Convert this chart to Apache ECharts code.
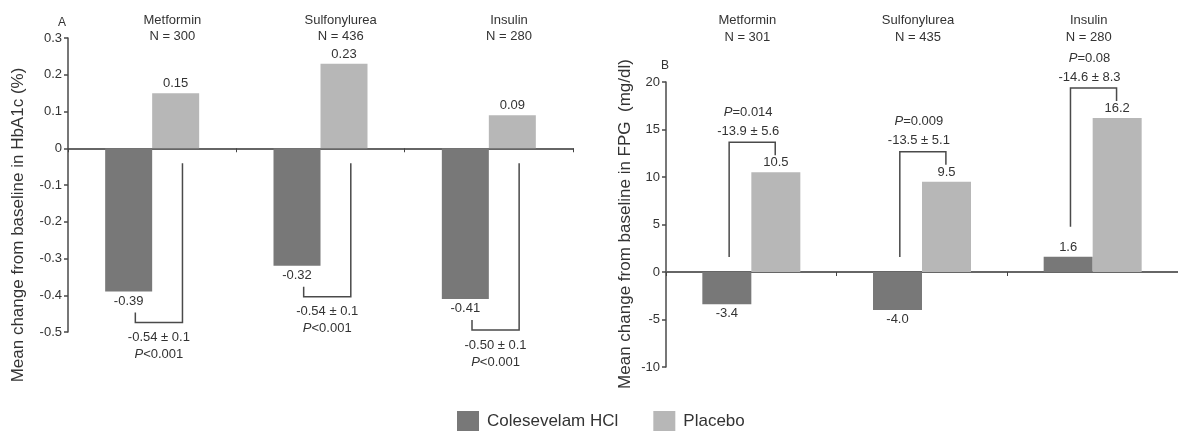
<!DOCTYPE html>
<html><head><meta charset="utf-8">
<script src="https://cdn.jsdelivr.net/npm/echarts@6/dist/echarts.min.js"></script>
<style>html,body{margin:0;padding:0;background:#fff}#c{width:1178px;height:433px}</style>
</head><body><div id="c"></div>
<script>
// ---- data ----
const categories = ['Metformin', 'Sulfonylurea', 'Insulin'];
const seriesNames = ['Colesevelam HCl', 'Placebo'];
// Panel A: HbA1c (%)
const hba1cN = ['N = 300', 'N = 436', 'N = 280'];
const hba1cColesevelam = [-0.39, -0.32, -0.41];
const hba1cPlacebo = [0.15, 0.23, 0.09];
const hba1cDiff = ['-0.54 \u00b1 0.1', '-0.54 \u00b1 0.1', '-0.50 \u00b1 0.1'];
const hba1cP = ['P<0.001', 'P<0.001', 'P<0.001'];
const hba1cAxis = { min: -0.5, max: 0.3, interval: 0.1 };
// Panel B: FPG (mg/dl)
const fpgN = ['N = 301', 'N = 435', 'N = 280'];
const fpgColesevelam = [-3.4, -4.0, 1.6];
const fpgPlacebo = [10.5, 9.5, 16.2];
const fpgDiff = ['-13.9 \u00b1 5.6', '-13.5 \u00b1 5.1', '-14.6 \u00b1 8.3'];
const fpgP = ['P=0.014', 'P=0.009', 'P=0.08'];
const fpgAxis = { min: -10, max: 20, interval: 5 };

// ---- style ----
const FONT = '"Liberation Sans", Arial, sans-serif';
const DARK = '#787878', LIGHT = '#b7b7b7', INK = '#333', LINE = '#4a4a4a';

function txt(x, y, s, size) {
  return { type: 'text', style: { x: x, y: y, text: s, align: 'center', verticalAlign: 'middle',
    fontSize: size || 13, fontFamily: FONT, fill: INK } };
}
function ptxt(x, y, s) {
  return { type: 'text', style: { x: x, y: y, text: '{i|' + s.charAt(0) + '}' + s.slice(1),
    align: 'center', verticalAlign: 'middle', fontSize: 13, fontFamily: FONT, fill: INK,
    rich: { i: { fontStyle: 'italic', fontSize: 13, fontFamily: FONT, fill: INK } } } };
}

function renderA(params, api) {
  const i = api.value(0), d = api.value(1);
  const c0 = api.coord([i, 0]);
  const band = api.size([1, 0])[0];
  const cx = c0[0], y0 = c0[1];
  const yd = api.coord([i, d])[1];
  const xLong = cx + 0.18 * band, xShort = cx - 0.10 * band;
  const yBot = yd + 31, yTop = y0 + 15;
  const tx = (xLong + xShort) / 2;
  return { type: 'group', children: [
    { type: 'polyline', shape: { points: [[xLong, yTop], [xLong, yBot], [xShort, yBot], [xShort, yBot - 10]] },
      style: { stroke: LINE, lineWidth: 1.5, fill: null } },
    txt(tx, yBot + 15, hba1cDiff[i]),
    ptxt(tx, yBot + 32, hba1cP[i]),
    txt(cx + 0.12 * band, 20, categories[i]),
    txt(cx + 0.12 * band, 36, hba1cN[i])
  ] };
}

function renderB(params, api) {
  const i = api.value(0), d = api.value(1), p = api.value(2);
  const c0 = api.coord([i, 0]);
  const band = api.size([1, 0])[0];
  const cx = c0[0], y0 = c0[1];
  const yp = api.coord([i, p])[1];
  const yd = api.coord([i, d])[1];
  const xLeft = cx - 0.13 * band, xRight = cx + 0.14 * band;
  const yBr = yp - 30;
  const yLow = d > 0 ? yd - 30 : y0 - 15;
  const tx = (xLeft + xRight) / 2 - 4;
  return { type: 'group', children: [
    { type: 'polyline', shape: { points: [[xLeft, yLow], [xLeft, yBr], [xRight, yBr], [xRight, yBr + 13]] },
      style: { stroke: LINE, lineWidth: 1.5, fill: null } },
    txt(tx, yBr - 11, fpgDiff[i]),
    ptxt(tx, yBr - 30, fpgP[i]),
    txt(cx - 4, 20, categories[i]),
    txt(cx - 4, 37, fpgN[i])
  ] };
}

function barLabel() {
  return function (v) { return { value: v, label: { position: v < 0 ? 'bottom' : 'top' } }; };
}

const axisLineStyle = { color: LINE, width: 1.5 };
const chart = echarts.init(document.getElementById('c'), null, { renderer: 'canvas' });
chart.setOption({
  backgroundColor: '#fff',
  animation: false,
  textStyle: { fontFamily: FONT },
  grid: [
    { left: 68, top: 38, width: 505, height: 294 },
    { left: 666, top: 82, width: 520, height: 285 }
  ],
  legend: {
    data: seriesNames, left: 457, top: 411, itemWidth: 22, itemHeight: 20, itemGap: 35,
    padding: 0, icon: 'rect',
    textStyle: { fontSize: 17, color: INK, fontFamily: FONT, padding: [0, 0, 0, 3] }
  },
  graphic: [
    { type: 'text', left: 58, top: 17, style: { text: 'A', fontSize: 12, fontFamily: FONT, fill: INK } },
    { type: 'text', left: 661, top: 60, style: { text: 'B', fontSize: 12, fontFamily: FONT, fill: INK } },
    { type: 'text', x: 18, y: 225, rotation: Math.PI / 2,
      style: { text: 'Mean change from baseline in HbA1c (%)', align: 'center', verticalAlign: 'middle',
        fontSize: 17, fontFamily: FONT, fill: INK } },
    { type: 'text', x: 625, y: 224, rotation: Math.PI / 2,
      style: { text: 'Mean change from baseline in FPG  (mg/dl)', align: 'center', verticalAlign: 'middle',
        fontSize: 17, fontFamily: FONT, fill: INK } }
  ],
  xAxis: [0, 1].map(g => ({
    type: 'category', gridIndex: g, data: categories,
    axisLine: { onZero: true, lineStyle: { color: '#666', width: 2 } },
    axisTick: { show: true, length: 4, lineStyle: { color: '#444' } },
    axisLabel: { show: false }, splitLine: { show: false }
  })),
  yAxis: [
    { type: 'value', gridIndex: 0, min: hba1cAxis.min, max: hba1cAxis.max, interval: hba1cAxis.interval,
      axisLine: { show: true, lineStyle: axisLineStyle }, axisTick: { show: true, length: 4, lineStyle: axisLineStyle },
      axisLabel: { fontSize: 13, color: INK, margin: 6, formatter: v => String(+v.toFixed(1)) },
      splitLine: { show: false } },
    { type: 'value', gridIndex: 1, min: fpgAxis.min, max: fpgAxis.max, interval: fpgAxis.interval,
      axisLine: { show: true, lineStyle: axisLineStyle }, axisTick: { show: true, length: 4, lineStyle: axisLineStyle },
      axisLabel: { fontSize: 13, color: INK, margin: 6, formatter: v => String(Math.round(v)) },
      splitLine: { show: false } }
  ],
  series: [
    { name: seriesNames[0], type: 'bar', xAxisIndex: 0, yAxisIndex: 0, barWidth: 47, barGap: '0%',
      itemStyle: { color: DARK }, data: hba1cColesevelam.map(barLabel()),
      label: { show: true, distance: 3, fontSize: 13, color: INK, formatter: p => p.value.toFixed(2) } },
    { name: seriesNames[1], type: 'bar', xAxisIndex: 0, yAxisIndex: 0, barWidth: 47, barGap: '0%',
      itemStyle: { color: LIGHT }, data: hba1cPlacebo.map(barLabel()),
      label: { show: true, distance: 3, fontSize: 13, color: INK, formatter: p => p.value.toFixed(2) } },
    { name: seriesNames[0], type: 'bar', xAxisIndex: 1, yAxisIndex: 1, barWidth: 49, barGap: '0%',
      itemStyle: { color: DARK }, data: fpgColesevelam.map(barLabel()),
      label: { show: true, distance: 3, fontSize: 13, color: INK, formatter: p => p.value.toFixed(1) } },
    { name: seriesNames[1], type: 'bar', xAxisIndex: 1, yAxisIndex: 1, barWidth: 49, barGap: '0%',
      itemStyle: { color: LIGHT }, data: fpgPlacebo.map(barLabel()),
      label: { show: true, distance: 3, fontSize: 13, color: INK, formatter: p => p.value.toFixed(1) } },
    { type: 'custom', xAxisIndex: 0, yAxisIndex: 0, clip: false, silent: true, z: 5,
      renderItem: renderA, encode: { x: 0, y: 1 },
      data: categories.map((c, i) => [i, hba1cColesevelam[i], hba1cPlacebo[i]]) },
    { type: 'custom', xAxisIndex: 1, yAxisIndex: 1, clip: false, silent: true, z: 5,
      renderItem: renderB, encode: { x: 0, y: [1, 2] },
      data: categories.map((c, i) => [i, fpgColesevelam[i], fpgPlacebo[i]]) }
  ]
});
</script></body></html>
